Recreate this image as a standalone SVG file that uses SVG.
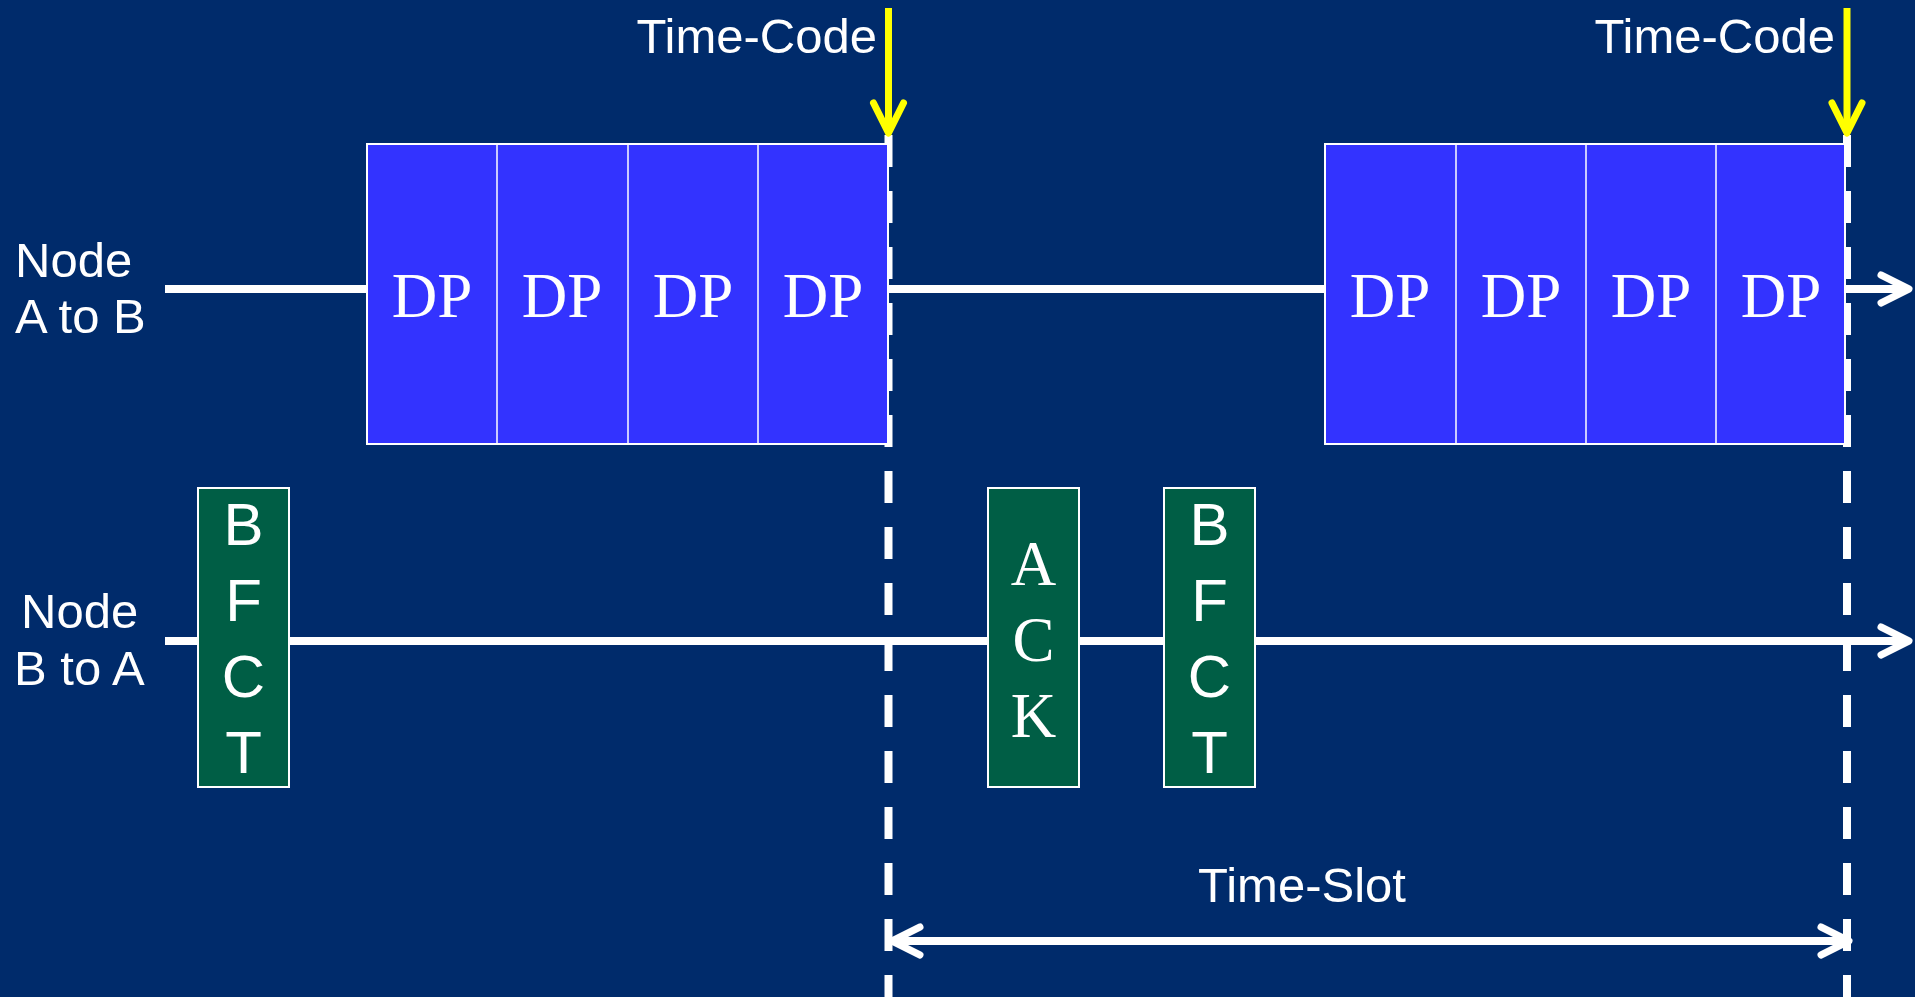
<svg xmlns="http://www.w3.org/2000/svg" width="1915" height="997" viewBox="0 0 1915 997">
  <style>
    .bg { fill: #002B6B; }
    .line { stroke: #FFFFFF; stroke-width: 8; fill: none; }
    .dash { stroke: #FFFFFF; stroke-width: 8; stroke-dasharray: 32 24; fill: none; }
    .tc { stroke: #FFFF00; stroke-width: 7; fill: none; }
    .dp { fill: #3333FF; stroke: #FFFFFF; stroke-width: 2; }
    .div { stroke: #FFFFFF; stroke-width: 1.5; }
    .ctl { fill: #005E45; stroke: #FFFFFF; stroke-width: 2; }
    .sans { font-family: "Liberation Sans", Arial, sans-serif; fill: #FFFFFF; }
    .serif { font-family: "Liberation Serif", "Times New Roman", serif; fill: #FFFFFF; }
    .lbl { font-size: 49px; }
    .dpt { font-size: 63px; text-anchor: middle; }
    .ltr { font-size: 60px; text-anchor: middle; }
    .ltrs { font-size: 63px; text-anchor: middle; }
  </style>
  <defs>
    <marker id="open-arrow" markerUnits="userSpaceOnUse" viewBox="-34 -20 40 40" markerWidth="40" markerHeight="40" refX="0" refY="0" orient="auto-start-reverse">
      <path d="M-28,-14 L0,0 L-28,14" stroke="#FFFFFF" stroke-width="7" stroke-linecap="round" stroke-linejoin="round" fill="none"/>
    </marker>
    <marker id="tc-arrow" markerUnits="userSpaceOnUse" viewBox="-36 -20 42 40" markerWidth="42" markerHeight="40" refX="0" refY="0" orient="auto">
      <path d="M-30,-15 L0,0 L-30,15" stroke="#FFFF00" stroke-width="7" stroke-linecap="round" stroke-linejoin="round" fill="none"/>
    </marker>
  </defs>

  <rect class="bg" x="0" y="0" width="1915" height="997"/>

  <!-- timelines, slot boundaries and time-code markers -->
  <g id="connectors">
    <line class="line" x1="165" y1="289" x2="1909" y2="289" marker-end="url(#open-arrow)"/>
    <line class="line" x1="165" y1="641" x2="1909" y2="641" marker-end="url(#open-arrow)"/>
    <line class="dash" x1="888.5" y1="135" x2="888.5" y2="997"/>
    <line class="dash" x1="1847" y1="135" x2="1847" y2="997"/>
    <line class="tc" x1="888.5" y1="8" x2="888.5" y2="133" marker-end="url(#tc-arrow)"/>
    <line class="tc" x1="1847" y1="8" x2="1847" y2="133" marker-end="url(#tc-arrow)"/>
    <line class="line" x1="892" y1="941" x2="1849" y2="941" marker-start="url(#open-arrow)" marker-end="url(#open-arrow)"/>
  </g>

  <!-- labels -->
  <g id="label-a-to-b">
    <text class="sans lbl" x="15" y="277">Node</text>
    <text class="sans lbl" x="15" y="333">A to B</text>
  </g>
  <g id="label-b-to-a">
    <text class="sans lbl" x="21" y="628">Node</text>
    <text class="sans lbl" x="14" y="685">B to A</text>
  </g>
  <g id="label-time-code-1">
    <text class="sans lbl" x="877" y="53" text-anchor="end">Time-Code</text>
  </g>
  <g id="label-time-code-2">
    <text class="sans lbl" x="1835" y="53" text-anchor="end">Time-Code</text>
  </g>
  <g id="label-time-slot">
    <text class="sans lbl" x="1302" y="902" text-anchor="middle">Time-Slot</text>
  </g>

  <!-- data packet burst, first slot -->
  <g id="dp-burst-1">
    <rect class="dp" x="367" y="144" width="521" height="300"/>
    <line class="div" x1="497" y1="144" x2="497" y2="444"/>
    <line class="div" x1="628" y1="144" x2="628" y2="444"/>
    <line class="div" x1="758" y1="144" x2="758" y2="444"/>
    <text class="serif dpt" x="432" y="317">DP</text>
    <text class="serif dpt" x="562" y="317">DP</text>
    <text class="serif dpt" x="693" y="317">DP</text>
    <text class="serif dpt" x="823" y="317">DP</text>
  </g>

  <!-- data packet burst, second slot -->
  <g id="dp-burst-2">
    <rect class="dp" x="1325" y="144" width="520" height="300"/>
    <line class="div" x1="1456" y1="144" x2="1456" y2="444"/>
    <line class="div" x1="1586" y1="144" x2="1586" y2="444"/>
    <line class="div" x1="1716" y1="144" x2="1716" y2="444"/>
    <text class="serif dpt" x="1390" y="317">DP</text>
    <text class="serif dpt" x="1521" y="317">DP</text>
    <text class="serif dpt" x="1651" y="317">DP</text>
    <text class="serif dpt" x="1781" y="317">DP</text>
  </g>

  <!-- control frames on the return path -->
  <g id="bfct-1">
    <rect class="ctl" x="198" y="488" width="91" height="299"/>
    <text class="sans ltr" x="243.5" y="545">B</text>
    <text class="sans ltr" x="243.5" y="621">F</text>
    <text class="sans ltr" x="243.5" y="697">C</text>
    <text class="sans ltr" x="243.5" y="773">T</text>
  </g>
  <g id="ack">
    <rect class="ctl" x="988" y="488" width="91" height="299"/>
    <text class="serif ltrs" x="1033.5" y="585">A</text>
    <text class="serif ltrs" x="1033.5" y="661">C</text>
    <text class="serif ltrs" x="1033.5" y="737">K</text>
  </g>
  <g id="bfct-2">
    <rect class="ctl" x="1164" y="488" width="91" height="299"/>
    <text class="sans ltr" x="1209.5" y="545">B</text>
    <text class="sans ltr" x="1209.5" y="621">F</text>
    <text class="sans ltr" x="1209.5" y="697">C</text>
    <text class="sans ltr" x="1209.5" y="773">T</text>
  </g>
</svg>
